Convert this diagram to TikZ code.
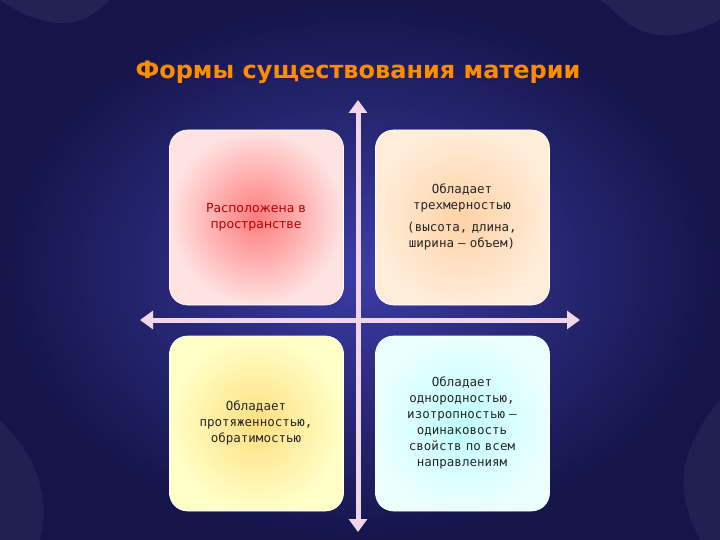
\documentclass[tikz,border=0pt]{standalone}
\usepackage{fontspec}
\setmainfont{DejaVu Sans}
\newfontfamily\monof{DejaVu Sans Mono}
\newfontfamily\titlef{DejaVu Sans}
\usetikzlibrary{arrows.meta,shadings}
\definecolor{bgout}{HTML}{15154A}
\definecolor{bgin}{HTML}{3C3CA8}
\definecolor{arr}{HTML}{F3D6E6}
\tikzset{
  card/.style={rounded corners=18pt, minimum width=174pt, minimum height=175pt, inner sep=0pt, draw=white, line width=0.6pt},
  mtxt/.style={font=\monof\fontsize{12.5}{16}\selectfont, text=black!85, align=center, text width=168pt},
  ttl/.style={font=\titlef\bfseries\fontsize{24}{28}\selectfont},
  dbl/.style={draw=arr, line width=5pt, {Triangle[length=13pt,width=18pt]}-{Triangle[length=13pt,width=18pt]}}
}
\begin{document}
\begin{tikzpicture}[x=1pt,y=1pt]
\useasboundingbox (0,0) rectangle (720,-540);
\shade[inner color=bgin, outer color=bgout] (0,0) rectangle (720,-540);
\fill[white,opacity=0.06] (0,0) .. controls (60,-40) and (90,-20) .. (110,0) -- cycle;
\fill[white,opacity=0.06] (720,-20) .. controls (640,-60) and (620,-10) .. (600,0) -- (720,0) -- cycle;
\fill[white,opacity=0.05] (0,-420) .. controls (40,-460) and (50,-500) .. (40,-540) -- (0,-540) -- cycle;
\fill[white,opacity=0.05] (720,-400) .. controls (670,-460) and (680,-500) .. (700,-540) -- (720,-540) -- cycle;
\node[ttl, text=orange!90!yellow] (title) at (358,-72) {Формы существования материи};
\node[card, inner color=red!35!pink, outer color=pink!45] (tl) at (256.5,-217.5) {};
\node[card, inner color=orange!35, outer color=orange!15] (tr) at (462.5,-217.5) {};
\node[card, inner color=yellow!50!orange!50, outer color=yellow!22] (bl) at (256.5,-423.5) {};
\node[card, inner color=cyan!25, outer color=cyan!8] (br) at (462.5,-423.5) {};
\node[font=\fontsize{12.5}{16}\selectfont, text=red!70!black, align=center] (tlt) at (256,-217) {Расположена в\\пространстве};
\node[mtxt] (trt) at (462,-217) {Обладает\\трехмерностью\\[6pt](высота, длина,\\ширина – объем)};
\node[mtxt] (blt) at (256,-423) {Обладает\\протяженностью,\\обратимостью};
\node[mtxt] (brt) at (462,-423) {Обладает\\однородностью,\\изотропностью –\\одинаковость\\свойств по всем\\направлениям};
\coordinate (vt) at (358,-100);
\coordinate (vb) at (358,-532);
\coordinate (hl) at (140,-320);
\coordinate (hr) at (580,-320);
\draw[dbl] (hl) -- (hr);
\draw[dbl] (vt) -- (vb);
\end{tikzpicture}
\end{document}
